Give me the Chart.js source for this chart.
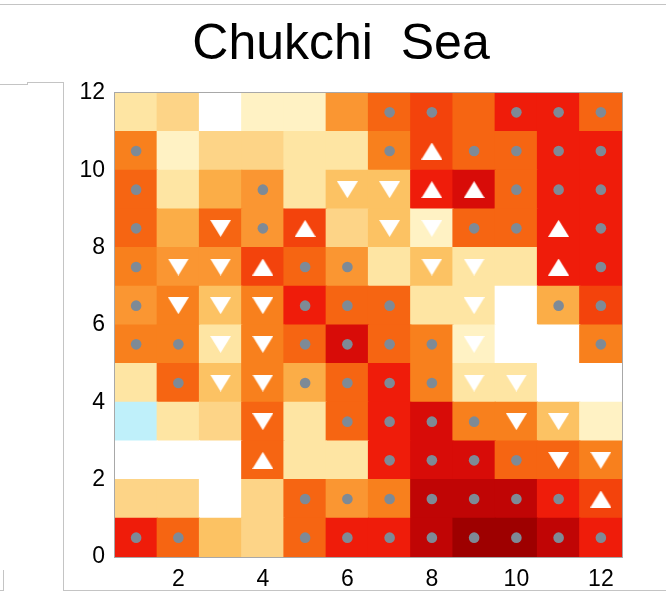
<!DOCTYPE html>
<html>
<head>
<meta charset="utf-8">
<script src="https://cdn.jsdelivr.net/npm/chart.js@4.4.1/dist/chart.umd.min.js"></script>
<style>
  html, body { margin: 0; padding: 0; background: #ffffff; }
  #wrap { position: relative; width: 666px; height: 599px; overflow: hidden; }
  #chart { position: absolute; left: 0; top: 0; }
  .rule { position: absolute; background: #c4c4c4; }
</style>
</head>
<body>
<div id="wrap">
  <div class="rule" style="left:0;top:4px;width:666px;height:1px"></div>
  <div class="rule" style="left:0;top:84px;width:28px;height:1px"></div>
  <div class="rule" style="left:27px;top:82px;width:37px;height:1px"></div>
  <div class="rule" style="left:27px;top:82px;width:1px;height:3px"></div>
  <div class="rule" style="left:63px;top:82px;width:1px;height:509px"></div>
  <div class="rule" style="left:63px;top:590px;width:603px;height:1px"></div>
  <div class="rule" style="left:3px;top:570px;width:1px;height:21px"></div>
  <div class="rule" style="left:0;top:590px;width:4px;height:1px"></div>
  <canvas id="chart" width="666" height="599"></canvas>
</div>
<script>
// Column (x) categories and row (y) bands
const columns = ['1','2','3','4','5','6','7','8','9','10','11','12'];
const yTicks = [0, 2, 4, 6, 8, 10, 12];

// Cell level for each row, bottom row (y 0-1) first, columns 1..12
const levels = [
  [10,  8,  4,  3,  8, 10, 10, 12, 13, 13, 12, 10],
  [ 3,  3,  0,  3,  8,  6,  7, 12, 12, 12, 10,  9],
  [ 0,  0,  0,  8,  2,  2, 10, 11, 11,  8,  8,  7],
  [-1,  2,  3,  8,  2,  8, 10, 11,  7,  7,  4,  1],
  [ 2,  8,  4,  7,  5,  8, 10,  7,  2,  2,  0,  0],
  [ 7,  7,  2,  7,  8, 11,  8,  7,  1,  0,  0,  7],
  [ 6,  7,  4,  7, 10,  8,  8,  2,  2,  0,  5,  9],
  [ 7,  6,  6,  9,  8,  6,  2,  4,  2,  2, 10, 10],
  [ 8,  5,  8,  6,  9,  3,  4,  1,  8,  8, 10, 10],
  [ 8,  2,  5,  6,  2,  4,  4, 10, 11,  8, 10, 10],
  [ 7,  1,  3,  3,  2,  2,  7,  9,  8,  8, 10, 10],
  [ 2,  3,  0,  1,  1,  6,  8,  9,  8, 10, 10,  8]
];

// Symbol in each cell: D = dot, U = up triangle, V = down triangle, . = none
const symbols = [
  'DD..DDDDDDDD',
  '....DDDDDDDU',
  '...U..DDDDVV',
  '...V.DDDDVV.',
  '.DVVDDDDVV..',
  'DDVVDDDDV..D',
  'DVVVDDD.V.DD',
  'DVVUDD.VV.UD',
  'D.VDU.VVDDUD',
  'D..D.VVUUDDD',
  'D.....DUDDDD',
  '......DD.DDD'
];

// Colour ramp, from level -1 (light blue) through white to dark red (13)
const palette = [
  '#bff0fa', '#ffffff', '#fff2c4', '#fee5a3', '#fdd487', '#fcc263',
  '#fbad47', '#fa9632', '#f8801d', '#f66512', '#f3430c', '#ef1c0a',
  '#d80c08', '#c00505', '#9e0000'
];
const colorFor = lv => palette[lv + 1];

// White triangle markers as small images, centred on their bounding box
function triangleImage(up) {
  const w = 21, h = 17;
  const c = document.createElement('canvas');
  c.width = w; c.height = h;
  const g = c.getContext('2d');
  g.fillStyle = '#ffffff';
  g.beginPath();
  if (up) { g.moveTo(w / 2, 0); g.lineTo(w, h); g.lineTo(0, h); }
  else    { g.moveTo(0, 0); g.lineTo(w, 0); g.lineTo(w / 2, h); }
  g.closePath();
  g.fill();
  return c;
}
const upImg = triangleImage(true);
const downImg = triangleImage(false);

// One floating-bar dataset per row band
const cellSets = levels.map((row, r) => ({
  type: 'bar',
  data: columns.map(() => [r, r + 1]),
  backgroundColor: row.map(colorFor),
  borderWidth: 0,
  grouped: false,
  barPercentage: 1,
  categoryPercentage: 1,
  inflateAmount: 0.6,
  order: 3
}));

function markerPoints(code) {
  const pts = [];
  symbols.forEach((line, r) => {
    for (let i = 0; i < columns.length; i++) {
      if (line[i] === code) pts.push({ x: columns[i], y: r + 0.5 });
    }
  });
  return pts;
}

const markerSets = [
  { code: 'D', style: 'circle', radius: 5.3 },
  { code: 'U', style: upImg, radius: 10 },
  { code: 'V', style: downImg, radius: 10 }
].map(m => ({
  type: 'line',
  data: markerPoints(m.code),
  showLine: false,
  pointStyle: m.style,
  pointRadius: m.radius,
  pointBackgroundColor: '#7e8a96',
  pointBorderWidth: 0,
  order: 1
}));

// Thin frame round the plotting area
const frame = {
  id: 'frame',
  afterDatasetsDraw(chart) {
    const a = chart.chartArea, ctx = chart.ctx;
    ctx.save();
    ctx.strokeStyle = '#a8a8a8';
    ctx.lineWidth = 1;
    ctx.strokeRect(Math.round(a.left) - 0.5, Math.round(a.top) - 0.5,
                   Math.round(a.right - a.left) + 1, Math.round(a.bottom - a.top) + 1);
    ctx.restore();
  }
};

new Chart(document.getElementById('chart'), {
  type: 'bar',
  data: { labels: columns, datasets: [...cellSets, ...markerSets] },
  options: {
    responsive: false,
    animation: false,
    events: [],
    layout: { padding: { left: 60, right: 44, top: 0, bottom: 0 } },
    plugins: {
      legend: { display: false },
      tooltip: { enabled: false },
      title: {
        display: true,
        text: 'Chukchi  Sea',
        color: '#000000',
        font: { family: '"Liberation Sans", Arial, sans-serif', size: 50, weight: 'normal', lineHeight: 1.2 },
        padding: { top: 15.5, bottom: 17.5 }
      }
    },
    scales: {
      x: {
        type: 'category',
        offset: true,
        grid: { display: false, drawTicks: false },
        border: { display: false },
        ticks: {
          autoSkip: false,
          maxRotation: 0,
          padding: 9,
          color: '#000000',
          font: { family: '"Liberation Sans", Arial, sans-serif', size: 23 },
          callback: (v, i) => ((i + 1) % 2 === 0 ? columns[i] : '')
        },
        afterFit: s => { s.height = 42; }
      },
      y: {
        type: 'linear',
        min: 0,
        max: 12,
        grid: { display: false, drawTicks: false },
        border: { display: false },
        afterBuildTicks: s => { s.ticks = yTicks.map(v => ({ value: v })); },
        ticks: {
          padding: 10,
          color: '#000000',
          font: { family: '"Liberation Sans", Arial, sans-serif', size: 23 }
        },
        afterFit: s => { s.width = 55; }
      }
    }
  },
  plugins: [frame]
});
</script>
</body>
</html>
